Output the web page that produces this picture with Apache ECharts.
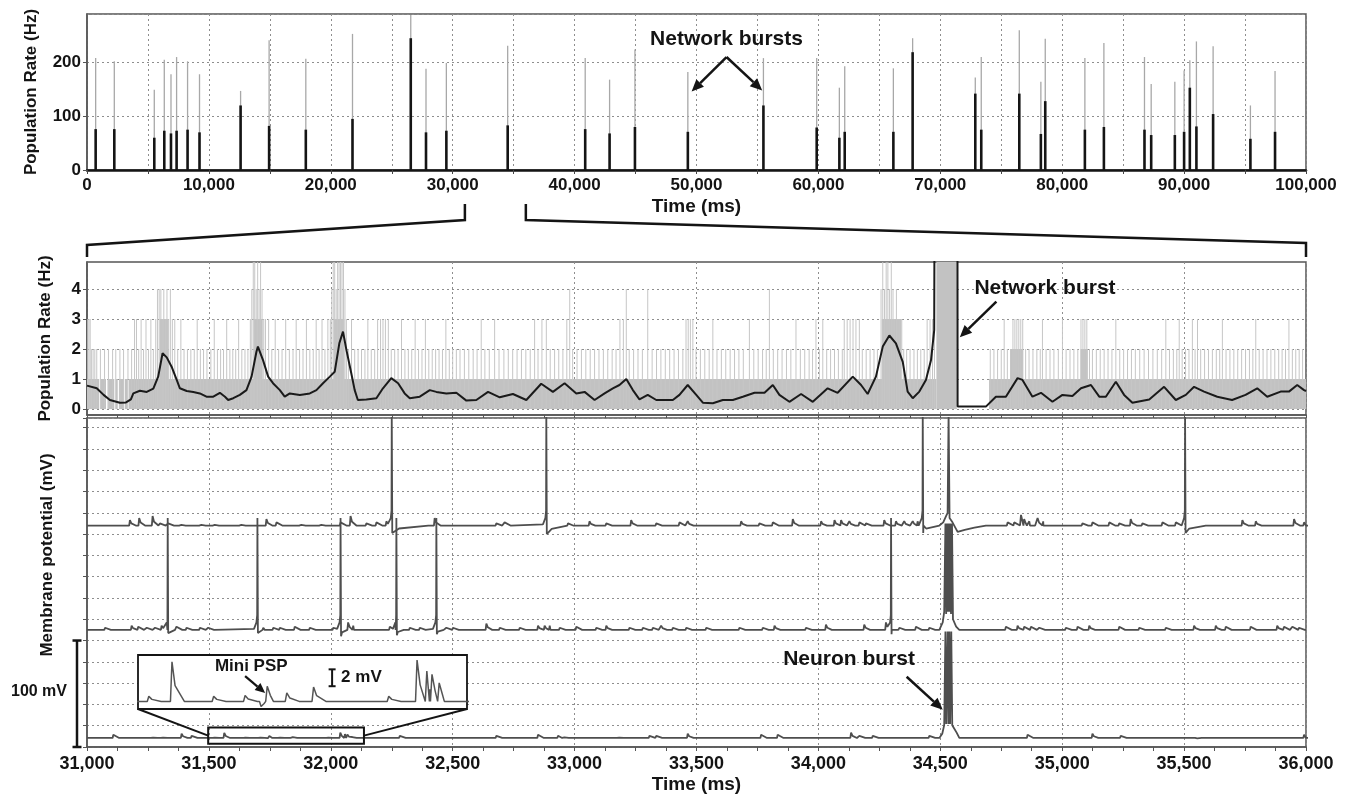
<!DOCTYPE html>
<html>
<head>
<meta charset="utf-8">
<script src="https://cdn.jsdelivr.net/npm/echarts@6/dist/echarts.min.js"></script>
<style>
  html, body { margin: 0; padding: 0; background: #fff; }
  #main { width: 1351px; height: 799px; }
</style>
</head>
<body>
<div id="main"></div>
<script>
// ---------- Whole recording: population rate, one entry per network burst ----------
const burstTimes = [710, 2240, 5520, 6340, 6890, 7350, 8250, 9230, 12600, 14940, 17950, 21780, 26560, 27810, 29480, 34510, 40870, 42870, 44950, 49290, 55490, 59860, 61720, 62160, 66150, 67730, 72870, 73360, 76480, 78250, 78610, 81860, 83420, 86750, 87300, 89240, 90000, 90470, 91010, 92380, 95440, 97460];
const burstPeakHz = [208, 202, 149, 205, 178, 210, 202, 178, 147, 241, 207, 253, 288, 188, 199, 231, 208, 168, 224, 182, 208, 208, 153, 193, 189, 245, 172, 210, 260, 164, 244, 208, 236, 210, 160, 164, 185, 204, 239, 230, 120, 184];
const burstMeanHz = [76, 76, 60, 73, 68, 73, 75, 70, 120, 82, 75, 95, 245, 70, 73, 83, 76, 68, 80, 71, 120, 79, 60, 71, 71, 219, 142, 75, 142, 67, 128, 75, 80, 75, 65, 65, 71, 153, 81, 104, 58, 71];

// ---------- 31-36 s window: raw population rate ----------
// filled blocks [start ms, end ms, Hz]
const rawBlocks = [
  [31000, 31050, 1], [31056, 31078, 1], [31084, 31112, 1], [31118, 31126, 1], [31131, 31150, 1],
  [31155, 31167, 1], [31172, 34484, 1], [34484, 34568, 6], [34700, 36000, 1],
  [31298, 31334, 3], [31684, 31720, 3], [32012, 32056, 3], [34260, 34340, 3],
  [34790, 34840, 2], [35075, 35105, 2]
];
// single bins above 1 Hz [ms, Hz]
const rawBins = [
  [31003,3],[31008,3],[31013,3],[31018,2],[31025,2],[31032,2],[31040,2],[31055,2],[31072,2],[31088,2],[31105,2],[31118,2],[31135,2],[31150,2],[31168,2],[31183,2],[31195,3],[31203,3],[31212,2],[31222,3],[31232,2],[31242,3],[31252,2],[31262,3],[31272,2],[31282,3],[31289,4],[31296,4],[31303,4],[31309,3],[31315,4],[31322,3],[31328,4],[31335,3],[31342,4],[31350,3],[31360,3],[31372,2],[31385,3],[31398,2],[31412,2],[31426,2],[31440,2],[31452,3],[31465,2],[31478,2],[31492,2],
  [31508,2],[31522,3],[31535,2],[31548,2],[31560,2],[31573,3],[31586,2],[31598,2],[31610,2],[31622,3],[31635,2],[31648,2],[31660,2],[31670,3],[31676,4],[31682,5],[31688,5],[31694,4],[31700,5],[31706,4],[31712,5],[31718,4],[31725,3],[31732,3],[31745,3],[31758,2],[31772,3],[31786,2],[31800,2],[31815,3],[31830,2],[31845,2],[31858,3],[31872,2],[31886,2],[31900,3],[31914,2],[31928,2],[31940,3],[31952,2],[31964,3],[31976,2],[31988,3],
  [31998,3],[32004,4],[32010,5],[32016,5],[32022,4],[32028,5],[32034,5],[32040,5],[32046,5],[32052,5],[32058,4],[32064,3],[32072,2],[32085,3],[32098,2],[32112,2],[32126,2],[32140,2],[32152,3],[32166,2],[32180,2],[32192,3],[32204,3],[32214,3],[32224,3],[32236,3],[32248,2],[32262,2],[32276,2],[32290,3],[32304,2],[32318,2],[32332,2],[32346,3],[32360,2],[32374,2],[32388,3],[32402,2],[32416,2],[32430,2],[32444,2],[32458,2],[32472,3],[32486,2],[32500,2],
  [32515,2],[32530,2],[32548,2],[32566,2],[32584,2],[32600,2],[32617,3],[32632,2],[32650,2],[32672,3],[32690,2],[32710,2],[32728,2],[32746,2],[32764,2],[32782,2],[32800,2],[32818,2],[32836,3],[32850,2],[32866,3],[32884,3],[32900,2],[32918,2],[32935,2],[32952,2],[32968,3],[32980,4],[32992,2],
  [33010,2],[33028,2],[33046,2],[33064,2],[33082,2],[33100,2],[33118,2],[33136,2],[33154,2],[33170,2],[33186,3],[33200,3],[33212,4],[33224,2],[33242,2],[33260,2],[33278,2],[33300,4],[33318,2],[33336,2],[33354,2],[33372,2],[33390,2],[33408,2],[33426,2],[33444,2],[33457,3],[33466,3],[33475,3],[33485,3],[33498,2],
  [33516,2],[33534,2],[33552,2],[33567,3],[33584,2],[33602,2],[33620,2],[33638,2],[33656,2],[33674,2],[33692,2],[33717,3],[33735,2],[33753,2],[33771,2],[33786,2],[33799,4],[33815,2],[33833,2],[33851,2],[33869,2],[33887,2],[33908,3],[33926,2],[33944,2],[33962,2],[33976,2],[33990,3],
  [34004,2],[34018,3],[34034,2],[34050,2],[34066,2],[34082,2],[34098,2],[34106,3],[34118,3],[34130,3],[34142,3],[34154,3],[34168,3],[34180,2],[34196,2],[34212,2],[34228,2],[34242,2],[34257,4],[34264,5],[34271,4],[34278,5],[34285,5],[34292,4],[34299,5],[34306,4],[34313,3],[34320,4],[34326,3],[34334,3],[34342,3],[34350,2],[34362,2],[34376,2],[34392,2],[34406,2],[34420,2],[34434,2],[34446,3],[34458,3],[34468,3],[34476,4],
  [34705,2],[34720,2],[34735,2],[34750,2],[34762,3],[34775,2],[34788,2],[34798,3],[34806,3],[34814,3],[34822,3],[34830,3],[34838,3],[34850,2],[34864,2],[34880,2],[34896,2],[34910,2],[34919,3],[34934,2],[34950,2],[34966,2],[34984,2],[35001,3],[35016,2],[35032,2],[35048,2],[35064,2],[35077,3],[35085,3],[35093,3],[35101,3],[35112,2],[35124,2],[35140,2],[35156,2],[35172,2],[35188,2],[35204,2],[35220,3],[35236,2],[35252,2],[35268,2],[35284,2],[35300,2],[35318,2],[35336,2],[35354,2],[35372,2],[35390,2],[35408,2],[35425,3],[35440,2],[35456,2],[35470,2],[35480,3],[35492,2],[35506,2],[35520,2],[35534,3],[35545,2],[35555,3],[35568,2],[35584,2],[35600,2],[35616,2],[35632,2],[35646,2],[35657,3],[35672,2],[35688,2],[35704,2],[35720,2],[35736,2],[35752,2],[35768,2],[35782,2],[35794,3],[35808,2],[35824,2],[35840,2],[35856,2],[35872,2],[35888,2],[35902,2],[35916,2],[35930,3],[35944,2],[35958,2],[35972,2],[35986,2]
];

// ---------- 31-36 s window: smoothed population rate ----------
const smoothTimes = [31000,31040,31068,31094,31135,31160,31180,31190,31217,31245,31272,31292,31310,31327,31347,31368,31381,31409,31436,31463,31490,31518,31545,31566,31579,31600,31627,31654,31675,31695,31701,31722,31743,31763,31791,31811,31832,31873,31914,31941,31968,31996,32016,32035,32050,32064,32084,32098,32111,32146,32187,32214,32248,32276,32303,32324,32365,32406,32433,32474,32515,32556,32597,32645,32693,32747,32802,32863,32911,32959,33007,33041,33082,33123,33157,33184,33212,33239,33266,33300,33335,33403,33430,33464,33499,33526,33567,33608,33649,33690,33738,33779,33813,33840,33881,33929,33977,34038,34079,34141,34175,34202,34236,34264,34291,34318,34346,34366,34387,34414,34441,34462,34475,34484,34568,34571,34687,34728,34769,34817,34837,34878,34913,34960,35001,35042,35077,35118,35152,35179,35220,35254,35288,35357,35418,35466,35507,35541,35582,35636,35697,35752,35800,35841,35896,35930,35964,35992,36000];
const smoothHz = [0.78,0.69,0.47,0.30,0.21,0.22,0.32,0.52,0.61,0.57,0.68,1.08,1.86,1.72,1.41,0.97,0.69,0.60,0.57,0.52,0.41,0.41,0.54,0.41,0.30,0.36,0.47,0.63,1.08,1.91,2.08,1.63,1.08,0.86,0.63,0.41,0.52,0.47,0.52,0.63,0.86,1.08,1.24,2.19,2.58,1.97,1.19,0.63,0.30,0.32,0.36,0.69,1.03,0.86,0.52,0.36,0.41,0.63,0.57,0.52,0.54,0.28,0.30,0.57,0.39,0.50,0.30,0.84,0.57,0.86,0.52,0.57,0.30,0.52,0.69,0.80,1.00,0.63,0.32,0.47,0.30,0.30,0.47,0.80,0.47,0.21,0.19,0.30,0.30,0.41,0.54,0.54,0.80,0.47,0.24,0.50,0.24,0.69,0.54,1.08,0.80,0.50,1.08,2.08,2.45,2.19,1.57,0.58,0.36,0.58,0.97,1.63,2.63,30,30,0.08,0.08,0.41,0.41,1.03,0.97,0.41,0.54,0.24,0.47,0.43,0.69,0.80,0.41,0.41,0.91,0.47,0.21,0.32,0.74,0.30,0.47,0.74,0.58,0.41,0.30,0.47,0.69,0.41,0.58,0.58,0.80,0.63,0.60];

// ---------- Membrane potential of three neurons (mV) ----------
// synaptic potentials [ms, amplitude mV]; spikes [ms, AHP depth mV, recovery ms]
const trace1Psp = [[31176,5],[31214,7],[31269,9],[31299,2],[31333,2],[31381,1.5],[31463,1.5],[31518,1.5],[31627,1.5],[31736,6],[31777,3],[31873,1.5],[31955,1.5],[32040,3],[32081,9],[32146,2],[32187,3],[32228,4],[32426,7],[32679,2],[32713,3],[32973,2],[33061,4],[33130,2],[33232,5],[33335,2],[33430,3],[33464,4],[33683,4],[33758,2],[33813,3],[33895,6],[34011,4],[34066,5],[34093,5],[34127,4],[34168,3],[34195,2],[34270,5],[34318,4],[34352,4],[34387,4],[34407,4],[34776,3],[34803,3],[34831,10],[34844,6],[34865,4],[34899,7],[34922,4],[35083,2],[35124,3],[35193,3],[35234,2],[35281,6],[35329,2],[35411,3],[35466,3],[35739,5],[35794,4],[35951,6],[35992,3]];
const trace1Spikes = [[32250,7,150],[32884,8,110],[34428,7,70],[35504,7,85]];
const trace1Burst = [[34496,-65],[34512,-62],[34524,-56],[34530,-53],[34534,40],[34538,-58],[34550,-62],[34571,-71],[34600,-69],[34640,-67],[34687,-65]];

const trace2Psp = [[31074,2],[31183,4],[31210,3],[31245,2],[31279,2],[31306,4],[31367,3],[31408,2],[31463,2],[31497,2],[31723,2],[31764,2],[31791,2],[31852,3],[31914,2],[32010,2],[32071,7],[32092,4],[32242,3],[32324,2],[32365,2],[32474,2],[32501,2],[32638,6],[32693,2],[32775,2],[32850,4],[32877,4],[32898,4],[32939,2],[33007,3],[33089,2],[33130,4],[33225,2],[33280,2],[33321,2],[33355,4],[33403,2],[33458,2],[33540,2],[33676,2],[33772,2],[33820,4],[33949,2],[34031,5],[34188,5],[34277,7],[34332,2],[34400,3],[34455,2],[34769,3],[34817,4],[34844,3],[34872,3],[34906,2],[35015,2],[35063,3],[35111,4],[35234,3],[35316,2],[35425,2],[35541,4],[35630,4],[35671,3],[35773,3],[35882,4],[35910,3],[35944,3],[35971,2]];
const trace2Spikes = [[31331,3,30],[31699,3,30],[32040,6,30],[32269,5,30],[32433,4,30],[34298,4,30]];
const trace2Burst = [[34496,-65],[34510,-58],[34516,-48],[34521,35],[34524,-50],[34527,35],[34530,-48],[34534,35],[34537,-48],[34541,35],[34544,-50],[34548,35],[34552,-55],[34565,-62],[34578,-65]];

const trace3Psp = [[31108,3],[31265,1],[31306,1],[31388,4],[31429,2],[31518,0.6],[31563,4.7],[31644,0.6],[31705,0.7],[31736,-0.6],[31748,1.8],[31786,1.0],[31838,1.7],[31984,0.6],[32039,4.9],[32058,3.6],[32068,3.2],[32082,2.2],[32283,2],[32679,2],[32850,3],[32932,2],[32952,1.5],[33177,1],[33307,2],[33335,2],[33464,4],[33765,3],[33833,3],[34134,5],[34168,2],[34223,2],[34455,2],[34858,3],[35124,4],[35240,2],[35548,-1],[35992,3]];
const trace3Spikes = [];
const trace3Burst = [[34496,-65],[34508,-61],[34516,-53],[34521,35],[34524,-52],[34530,35],[34533,-52],[34537,35],[34540,-52],[34545,35],[34549,-53],[34557,-54],[34567,-60],[34578,-65]];

// magnified stretch of the lowest trace
const insetRange = [31497, 32136];

// ---------- drawing ----------
const REST = -65;
const SPIKE_PEAK = 40;
// vertical separation of the stacked traces on the shared mV axis
const traceOffsets = [253, 155, 53.5];

function buildTrace(psps, spikes, burst) {
  const pts = [[31000, REST], [36000, REST]];
  psps.forEach(([t, a]) => {
    pts.push([t - 3, REST], [t, REST + a], [t + 6, REST + a * 0.4], [t + 24, REST]);
  });
  spikes.forEach(([t, ahp, rec]) => {
    pts.push([t - 14, REST + 1], [t - 4, REST + 7], [t - 1, REST + 14], [t, SPIKE_PEAK],
             [t + 2, REST - ahp], [t + rec * 0.2, REST - ahp * 0.4], [t + rec, REST]);
  });
  burst.forEach(p => pts.push(p));
  pts.sort((a, b) => a[0] - b[0]);
  return pts;
}

const traces = [
  buildTrace(trace1Psp, trace1Spikes, trace1Burst),
  buildTrace(trace2Psp, trace2Spikes, trace2Burst),
  buildTrace(trace3Psp, trace3Spikes, trace3Burst)
];

const FONT = '"Liberation Sans", Arial, Helvetica, sans-serif';
const INK = '#141414';
const fmt = v => Math.round(v).toLocaleString('en-US');
const dotted = { show: true, lineStyle: { color: '#8e8e8e', type: [2, 3], width: 1 } };
const frame = { show: true, borderColor: '#555', borderWidth: 1.5, backgroundColor: 'transparent', outerBoundsMode: 'none' };

function stem(color, width) {
  return function (params, api) {
    const a = api.coord([api.value(0), 0]);
    const b = api.coord([api.value(0), api.value(1)]);
    return { type: 'line', shape: { x1: a[0], y1: a[1], x2: b[0], y2: b[1] },
             style: { stroke: color, lineWidth: width } };
  };
}
function block(color) {
  return function (params, api) {
    const a = api.coord([api.value(0), 0]);
    const b = api.coord([api.value(1), api.value(2)]);
    const r = echarts.graphic.clipRectByRect(
      { x: a[0], y: b[1], width: b[0] - a[0], height: a[1] - b[1] }, params.coordSys);
    return r && { type: 'rect', shape: r, style: { fill: color } };
  };
}

const chart = echarts.init(document.getElementById('main'), null, { renderer: 'canvas' });

const option = {
  animation: false,
  backgroundColor: '#fff',
  textStyle: { fontFamily: FONT },
  grid: [
    Object.assign({ left: 87, top: 14, width: 1219, height: 156 }, frame),
    Object.assign({ left: 87, top: 262, width: 1219, height: 153 }, frame),
    Object.assign({ left: 87, top: 418, width: 1219, height: 329 }, frame),
    { left: 138, top: 655, width: 329, height: 54, show: false, outerBoundsMode: 'none' }
  ],
  xAxis: [
    {
      gridIndex: 0, type: 'value', min: 0, max: 100000, interval: 5000,
      axisLine: { show: true, onZero: false, lineStyle: { color: INK, width: 2.5 } },
      axisTick: { show: true, length: 4, lineStyle: { color: '#444' } },
      axisLabel: { margin: 7, fontSize: 17, fontWeight: 'bold', color: INK, fontFamily: FONT,
                   formatter: v => (v % 10000 === 0 ? fmt(v) : '') },
      splitLine: dotted,
      name: 'Time (ms)', nameLocation: 'middle', nameGap: 27, nameMoveOverlap: false,
      nameTextStyle: { fontSize: 19, fontWeight: 'bold', color: INK, fontFamily: FONT }
    },
    {
      gridIndex: 1, type: 'value', min: 31000, max: 36000, interval: 500,
      axisLine: { show: true, onZero: false, lineStyle: { color: '#555', width: 1.5 } },
      axisTick: { show: true, length: 3, lineStyle: { color: '#555' } },
      minorTick: { show: true, splitNumber: 4, length: 3, lineStyle: { color: '#555' } },
      axisLabel: { show: false },
      splitLine: dotted
    },
    {
      gridIndex: 2, type: 'value', min: 31000, max: 36000, interval: 500,
      axisLine: { show: true, onZero: false, lineStyle: { color: '#555', width: 1.5 } },
      axisTick: { show: true, length: 4, lineStyle: { color: '#555' } },
      minorTick: { show: true, splitNumber: 4, length: 4, lineStyle: { color: '#555' } },
      axisLabel: { margin: 8, fontSize: 18, fontWeight: 'bold', color: INK, fontFamily: FONT, formatter: fmt },
      splitLine: dotted,
      name: 'Time (ms)', nameLocation: 'middle', nameGap: 28, nameMoveOverlap: false,
      nameTextStyle: { fontSize: 19, fontWeight: 'bold', color: INK, fontFamily: FONT }
    },
    { gridIndex: 3, type: 'value', min: insetRange[0], max: insetRange[1], show: false }
  ],
  yAxis: [
    {
      gridIndex: 0, type: 'value', min: 0, max: 290, interval: 100,
      axisLine: { show: true, lineStyle: { color: '#555', width: 1.5 } },
      axisTick: { show: true, length: 4, lineStyle: { color: '#555' } },
      axisLabel: { margin: 6, fontSize: 17, fontWeight: 'bold', color: INK, fontFamily: FONT, showMaxLabel: false },
      splitLine: dotted,
      name: 'Population Rate (Hz)', nameLocation: 'middle', nameGap: 47, nameMoveOverlap: false,
      nameTextStyle: { fontSize: 17, fontWeight: 'bold', color: INK, fontFamily: FONT }
    },
    {
      gridIndex: 1, type: 'value', min: -0.2, max: 4.9,
      axisLine: { show: true, lineStyle: { color: '#555', width: 1.5 } },
      axisTick: { show: true, length: 4, customValues: [0, 1, 2, 3, 4], lineStyle: { color: '#555' } },
      axisLabel: { margin: 6, fontSize: 17, fontWeight: 'bold', color: INK, fontFamily: FONT, customValues: [0, 1, 2, 3, 4] },
      splitLine: dotted,
      name: 'Population Rate (Hz)', nameLocation: 'middle', nameGap: 33, nameMoveOverlap: false,
      nameTextStyle: { fontSize: 17, fontWeight: 'bold', color: INK, fontFamily: FONT }
    },
    {
      gridIndex: 2, type: 'value', min: -20, max: 289, interval: 20,
      axisLine: { show: true, lineStyle: { color: '#555', width: 1.5 } },
      axisTick: { show: true, length: 4, lineStyle: { color: '#555' } },
      axisLabel: { show: false },
      splitLine: dotted
    },
    { gridIndex: 3, type: 'value', min: -65.9, max: -59.5, show: false }
  ],
  series: [
    {
      type: 'custom', name: 'peak rate', xAxisIndex: 0, yAxisIndex: 0, clip: true, z: 2,
      renderItem: stem('#a8a8a8', 1.3), encode: { x: 0, y: 1 },
      data: burstTimes.map((t, i) => [t, burstPeakHz[i]])
    },
    {
      type: 'custom', name: 'mean rate', xAxisIndex: 0, yAxisIndex: 0, clip: true, z: 3,
      renderItem: stem('#151515', 2.6), encode: { x: 0, y: 1 },
      data: burstTimes.map((t, i) => [t, burstMeanHz[i]])
    },
    {
      type: 'custom', name: 'raw blocks', xAxisIndex: 1, yAxisIndex: 1, clip: true, z: 2,
      renderItem: block('#c2c2c2'), encode: { x: [0, 1], y: 2 },
      data: rawBlocks
    },
    {
      type: 'custom', name: 'raw bins', xAxisIndex: 1, yAxisIndex: 1, clip: true, z: 2,
      renderItem: stem('#c6c6c6', 1), encode: { x: 0, y: 1 },
      data: rawBins
    },
    {
      type: 'line', name: 'smoothed', xAxisIndex: 1, yAxisIndex: 1, clip: true, z: 4,
      showSymbol: false, symbol: 'none', sampling: null,
      lineStyle: { color: '#1a1a1a', width: 2 },
      data: smoothTimes.map((t, i) => [t, smoothHz[i]])
    }
  ].concat(traces.map((pts, k) => ({
    type: 'line', name: 'neuron ' + (k + 1), xAxisIndex: 2, yAxisIndex: 2, clip: true, z: 2,
    showSymbol: false, symbol: 'none',
    lineStyle: { color: '#4e4e4e', width: 1.8 },
    data: pts.map(([t, v]) => [t, v + traceOffsets[k]])
  }))).concat([{
    type: 'line', name: 'neuron 3 detail', xAxisIndex: 3, yAxisIndex: 3, clip: true, z: 6,
    showSymbol: false, symbol: 'none',
    lineStyle: { color: '#555', width: 1.5 },
    data: traces[2]
  }])
};

chart.setOption(option);

// ---------- annotations placed through the axes ----------
const P = (g, pt) => chart.convertToPixel({ gridIndex: g }, pt);
const BOLD = s => 'bold ' + s + 'px ' + FONT;

function arrow(from, to, width, head) {
  width = width || 2.5; head = head || 12;
  const dx = to[0] - from[0], dy = to[1] - from[1], len = Math.hypot(dx, dy);
  const ux = dx / len, uy = dy / len;
  const bx = to[0] - ux * head, by = to[1] - uy * head, hw = head * 0.45;
  return [
    { type: 'line', z: 30, shape: { x1: from[0], y1: from[1], x2: bx, y2: by }, style: { stroke: INK, lineWidth: width } },
    { type: 'polygon', z: 30, shape: { points: [[to[0], to[1]], [bx - uy * hw, by + ux * hw], [bx + uy * hw, by - ux * hw]] }, style: { fill: INK } }
  ];
}
function text(str, pos, size, align, rotation) {
  return {
    type: 'text', z: 30, x: pos[0], y: pos[1], rotation: rotation || 0,
    style: { text: str, font: BOLD(size), fill: INK,
             align: align || 'center', verticalAlign: 'middle',
             textAlign: align || 'center', textVerticalAlign: 'middle' }
  };
}
function poly(points, width) {
  return { type: 'polyline', z: 30, shape: { points }, style: { stroke: INK, lineWidth: width || 2, fill: null } };
}

const els = [];

// bracket linking the top time axis to the magnified window
const zA = P(0, [31000, 0]), zB = P(0, [36000, 0]);
const mL = P(1, [31000, 4.9]), mR = P(1, [36000, 4.9]);
els.push(poly([[zA[0], 204], [zA[0], 220], [mL[0], 245], [mL[0], 257]], 2.5));
els.push(poly([[zB[0], 204], [zB[0], 220], [mR[0], 243], [mR[0], 257]], 2.5));

// network bursts (top)
els.push(text('Network bursts', P(0, [52460, 244]), 21));
els.push(...arrow(P(0, [52460, 210]), P(0, [49600, 146])));
els.push(...arrow(P(0, [52460, 210]), P(0, [55390, 148])));

// network burst (middle)
els.push(text('Network burst', P(1, [34640, 4.03]), 21, 'left'));
els.push(...arrow(P(1, [34730, 3.58]), P(1, [34580, 2.39])));

// neuron burst (bottom)
els.push(text('Neuron burst', P(2, [34126, 62.7]), 21));
els.push(...arrow(P(2, [34362, 46]), P(2, [34510, 15])));

// y axis name of the membrane traces
els.push(text('Membrane potential (mV)', [47, 555], 17, 'center', Math.PI / 2));

// 100 mV scale bar
const sb0 = P(2, [31000, -20]), sb1 = P(2, [31000, 80]);
const sx = sb0[0] - 10;
els.push(poly([[sx, sb0[1]], [sx, sb1[1]]], 2.5));
els.push(poly([[sx - 4.5, sb0[1]], [sx + 4.5, sb0[1]]], 2.5));
els.push(poly([[sx - 4.5, sb1[1]], [sx + 4.5, sb1[1]]], 2.5));
els.push(text('100 mV', [39, (sb0[1] + sb1[1]) / 2 - 2], 16));

// inset frame and the magnified region it shows
const i0 = P(3, [insetRange[0], -59.5]), i1 = P(3, [insetRange[1], -65.9]);
els.push({ type: 'rect', z: 3, shape: { x: i0[0], y: i0[1], width: i1[0] - i0[0], height: i1[1] - i0[1] },
           style: { fill: '#fff', stroke: INK, lineWidth: 1.8 } });
const s0 = P(2, [insetRange[0], -55.2 + traceOffsets[2]]), s1 = P(2, [insetRange[1], -70.4 + traceOffsets[2]]);
els.push({ type: 'rect', z: 30, shape: { x: s0[0], y: s0[1], width: s1[0] - s0[0], height: s1[1] - s0[1] },
           style: { fill: null, stroke: INK, lineWidth: 2 } });
const sMid = (s0[1] + s1[1]) / 2;
els.push(poly([[i0[0], i1[1]], [s0[0], sMid]], 2));
els.push(poly([[i1[0], i1[1]], [s1[0], sMid]], 2));

// inset labels
els.push(text('Mini PSP', P(3, [31717, -60.85]), 17));
els.push(...arrow(P(3, [31705, -62.0]), P(3, [31744, -64.0]), 2.2, 10));
const b0 = P(3, [31874, -63.2]), b1 = P(3, [31874, -61.2]);
els.push(poly([[b0[0], b0[1]], [b0[0], b1[1]]], 2));
els.push(poly([[b0[0] - 3.5, b0[1]], [b0[0] + 3.5, b0[1]]], 2));
els.push(poly([[b0[0] - 3.5, b1[1]], [b0[0] + 3.5, b1[1]]], 2));
els.push(text('2 mV', [b0[0] + 9, (b0[1] + b1[1]) / 2], 17, 'left'));

chart.setOption({ graphic: { elements: els } });
</script>
</body>
</html>
